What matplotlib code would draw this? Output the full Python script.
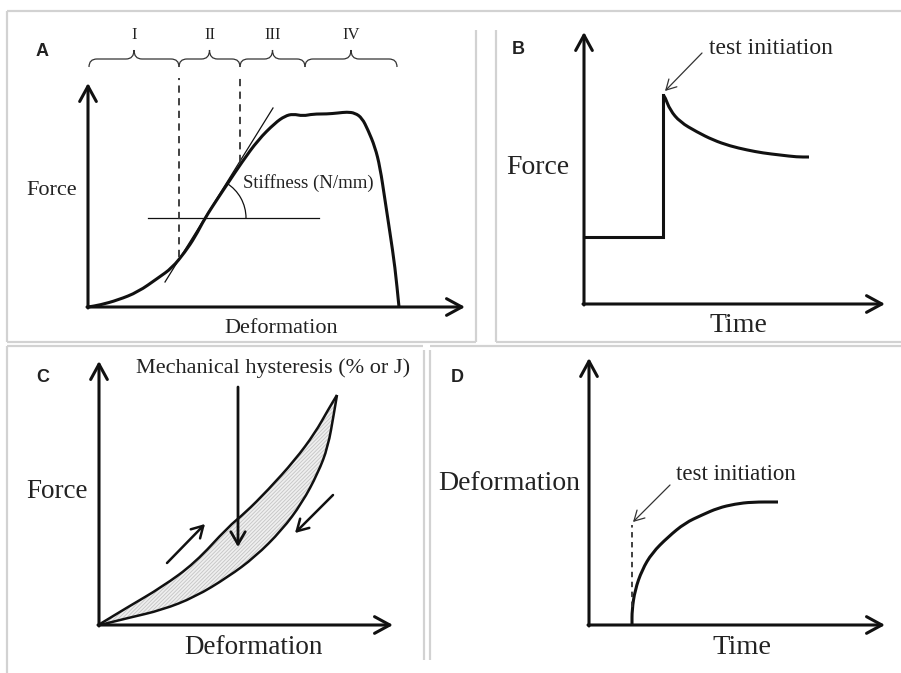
import numpy as np
import matplotlib.pyplot as plt
from matplotlib.patches import Arc, PathPatch
from matplotlib.path import Path

W, H = 901, 673
INK = "#111111"
TXT = "#222222"
SERIF = "Liberation Serif"
SANS = "Liberation Sans"

# Panel A: force vs deformation of a sample loaded to failure
a_deform = [0, 12, 30, 50, 70, 84, 97, 107, 117, 130, 140, 154, 170, 187, 197,
            205, 215, 225, 239, 250, 259, 267, 274, 280, 287, 292, 297, 302, 307, 311]
a_force = [0, 2, 7, 15, 29, 39, 55, 70, 89, 109, 124, 145, 167, 184, 191,
           193, 191, 193, 193, 194, 195, 194, 189, 177, 160, 140, 107, 74, 40, 0]
a_tangent_x = [77, 185]
a_tangent_y = [25, 199]
a_ref_x = [60, 231]
a_ref_y = [89, 89]
a_regions = [1, 91, 152, 217, 309]
a_region_labels = ["I", "II", "III", "IV"]

# Panel B: force relaxation after the step
b_time = [0, 79, 79, 81, 86, 96, 113, 129, 146, 163, 179, 196, 213, 225]
b_force = [67, 67, 209, 207, 194, 182, 172, 164, 158, 154, 151, 149, 147, 147]

# Panel C: loading / unloading loop
c_load_x = [1, 29, 63, 96, 129, 146, 169, 196, 216, 229, 238]
c_load_y = [1, 18, 38, 62, 98, 112, 135, 165, 192, 215, 230]
c_unload_x = [238, 235, 229, 219, 203, 183, 156, 129, 96, 63, 29, 1]
c_unload_y = [230, 212, 178, 152, 122, 95, 68, 48, 28, 15, 7, 0]

# Panel D: creep under constant load
d_time = [43, 43, 46, 53, 63, 79, 96, 113, 129, 146, 163, 189]
d_deform = [0, 15, 35, 55, 72, 88, 102, 110, 117, 121, 123, 123]

plt.rcParams["hatch.linewidth"] = 0.6
plt.rcParams["hatch.color"] = "#c4c4c4"

fig = plt.figure(figsize=(W / 100, H / 100), dpi=100)

# light frames around the four tiles
base = fig.add_axes([0, 0, 1, 1])
base.set_xlim(0, W)
base.set_ylim(H, 0)
base.set_axis_off()
frame_lines = [
    ((7, 901), (11, 11)), ((7, 7), (11, 342)), ((476, 476), (30, 342)),
    ((7, 476), (342, 342)), ((496, 496), (30, 342)), ((496, 901), (342, 342)),
    ((7, 7), (346, 673)), ((7, 423), (346, 346)), ((424, 424), (350, 660)),
    ((430, 430), (350, 660)), ((430, 901), (346, 346)),
]
for xs, ys in frame_lines:
    base.plot(xs, ys, color="#d2d2d2", lw=1.6, solid_capstyle="butt")


def panel(ox, oy):
    ax = fig.add_axes([0, 0, 1, 1])
    ax.set_xlim(-ox, W - ox)
    ax.set_ylim(oy - H, oy)
    ax.set_axis_off()
    ax.patch.set_alpha(0)
    return ax


def smooth(ax, xs, ys, lw=2.2, color=INK):
    # quadratic Bezier pieces using the points as control points
    pts = np.column_stack([xs, ys]).astype(float)
    mids = (pts[:-1] + pts[1:]) / 2
    verts = [pts[0], mids[0]]
    codes = [Path.MOVETO, Path.LINETO]
    for i in range(1, len(pts) - 1):
        verts += [pts[i], mids[i]]
        codes += [Path.CURVE3, Path.CURVE3]
    verts.append(pts[-1])
    codes.append(Path.LINETO)
    ax.add_patch(PathPatch(Path(verts, codes), fill=False, lw=lw, color=color,
                           capstyle="butt", joinstyle="round"))


def arrow(ax, start, end, lw=2.2, hl=0.55, hw=0.3, ms=20, color=INK):
    ax.annotate("", xy=end, xytext=start,
                arrowprops=dict(arrowstyle=f"->,head_length={hl},head_width={hw}",
                                lw=lw, color=color, shrinkA=0, shrinkB=0,
                                mutation_scale=ms))


def axes_arrows(ax, xmax, ymax):
    arrow(ax, (0, -1), (0, ymax))
    arrow(ax, (-1, 0), (xmax, 0))


def brace(ax, x0, x1, y, d=8, up=9, r=8):
    xm = (x0 + x1) / 2
    verts = [(x0, y - d), (x0, y), (x0 + r, y), (xm - r, y), (xm, y), (xm, y + up),
             (xm, y), (xm + r, y), (x1 - r, y), (x1, y), (x1, y - d)]
    codes = [Path.MOVETO, Path.CURVE3, Path.CURVE3, Path.LINETO, Path.CURVE3, Path.CURVE3,
             Path.CURVE3, Path.CURVE3, Path.LINETO, Path.CURVE3, Path.CURVE3]
    ax.add_patch(PathPatch(Path(verts, codes), fill=False, lw=0.9, color="#333333"))


def label(ax, x, y, s, size, ha="center", family=SERIF, weight="normal"):
    ax.text(x, y, s, fontsize=size, family=family, weight=weight,
            ha=ha, va="center", color=TXT)


# ---- A ----
ax = panel(88, 307)
axes_arrows(ax, 377, 224)
smooth(ax, a_deform, a_force)
ax.plot(a_tangent_x, a_tangent_y, color=INK, lw=0.9)
ax.plot(a_ref_x, a_ref_y, color=INK, lw=0.9)
ang = np.degrees(np.arctan2(a_tangent_y[1] - a_tangent_y[0], a_tangent_x[1] - a_tangent_x[0]))
ax.add_patch(Arc((117, 89), 82, 82, theta1=0, theta2=ang, lw=0.9, color=INK))
for xb, yb in [(a_regions[1], 50), (a_regions[2], 145)]:
    ax.plot([xb, xb], [yb, 229], color="#333333", lw=1.3, dashes=(4, 3))
for i, name in enumerate(a_region_labels):
    brace(ax, a_regions[i], a_regions[i + 1], 248)
    label(ax, (a_regions[i] + a_regions[i + 1]) / 2, 272, name, 12)
label(ax, -46, 255, "A", 13, family=SANS, weight="bold")
label(ax, -36, 117, "Force", 16)
label(ax, 193, -21, "Deformation", 16)
label(ax, 155, 124, "Stiffness (N/mm)", 13.5, ha="left")

# ---- B ----
ax = panel(584, 304)
axes_arrows(ax, 301, 272)
ax.plot(b_time[:3], b_force[:3], color=INK, lw=2.2, solid_joinstyle="miter")
smooth(ax, b_time[2:], b_force[2:])
arrow(ax, (118, 251), (81, 213), lw=0.9, hl=0.45, hw=0.25, ms=16, color="#333333")
label(ax, 125, 256, "test initiation", 17, ha="left")
label(ax, -66, 254, "B", 13, family=SANS, weight="bold")
label(ax, -46, 137, "Force", 20)
label(ax, 154, -21, "Time", 20)

# ---- C ----
ax = panel(99, 625)
axes_arrows(ax, 294, 264)
ax.fill(c_load_x + c_unload_x, c_load_y + c_unload_y, facecolor="#efefef",
        edgecolor="#c4c4c4", hatch="/" * 9, lw=0)
smooth(ax, c_load_x, c_load_y, lw=1.8)
smooth(ax, c_unload_x, c_unload_y, lw=1.8)
arrow(ax, (139, 238), (139, 78), lw=2.0, hl=0.45, hw=0.26, ms=20)
arrow(ax, (68, 62), (106, 101), lw=1.8, hl=0.45, hw=0.26, ms=18)
arrow(ax, (234, 130), (196, 92), lw=1.8, hl=0.45, hw=0.26, ms=18)
label(ax, -56, 248, "C", 13, family=SANS, weight="bold")
label(ax, -42, 133, "Force", 19.5)
label(ax, 154, -23, "Deformation", 19.5)
label(ax, 174, 257, "Mechanical hysteresis (% or J)", 16)

# ---- D ----
ax = panel(589, 625)
axes_arrows(ax, 296, 267)
smooth(ax, d_time, d_deform)
ax.plot([d_time[0], d_time[0]], [18, 100], color="#333333", lw=1.3, dashes=(3, 2.5))
arrow(ax, (81, 140), (44, 103), lw=0.9, hl=0.45, hw=0.25, ms=16, color="#333333")
label(ax, 87, 150, "test initiation", 16.5, ha="left")
label(ax, -132, 247, "D", 13, family=SANS, weight="bold")
label(ax, -80, 142, "Deformation", 20)
label(ax, 153, -23, "Time", 20.5)

fig.savefig("out.png", dpi=100)
